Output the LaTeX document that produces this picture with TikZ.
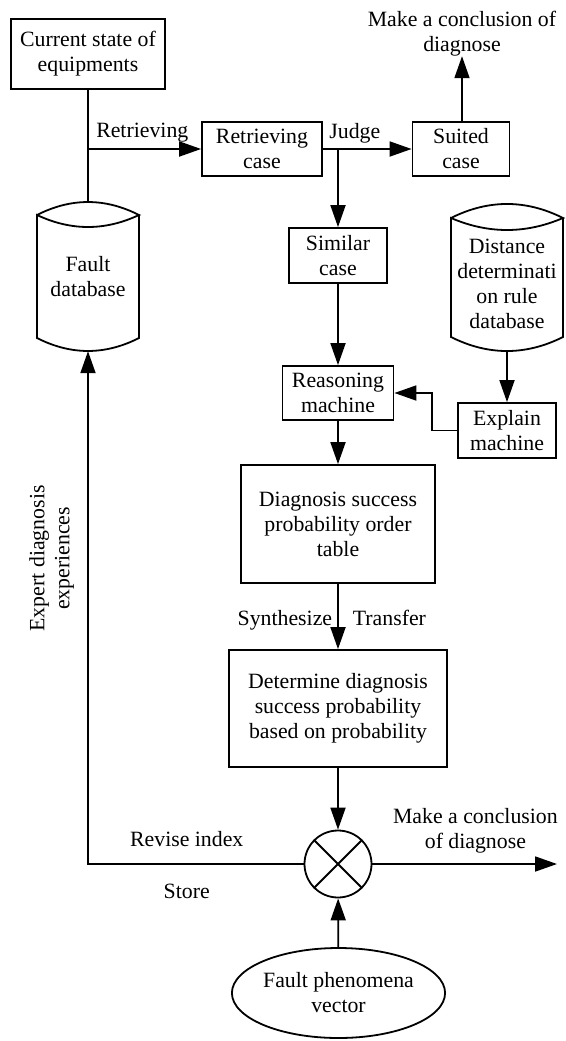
\documentclass[tikz,border=0pt]{standalone}
\usepackage{fontspec}
\setmainfont{Liberation Serif}
\usetikzlibrary{arrows.meta,shapes.geometric}

\begin{document}
\begin{tikzpicture}[
      x=1pt, y=-1pt,
      every node/.style={font=\fontsize{21.8}{25}\selectfont, align=center, inner sep=0pt},
      caja/.style={draw, line width=1.8pt},
      linea/.style={line width=1.8pt},
      flecha/.style={line width=1.8pt, -{Triangle[length=22pt,width=15pt]}},
      etiq/.style={anchor=base}
    ]
    \useasboundingbox (0,0) rectangle (565,1041);

    \node[caja, minimum width=154pt, minimum height=70pt]  (cur) at (88,54)      {Current state of\\equipments};
    \node[caja, minimum width=120pt, minimum height=54pt]  (rc)  at (262,149)    {Retrieving\\case};
    \node[caja, minimum width=97pt,  minimum height=54pt]  (sc)  at (461,149)    {Suited\\case};
    \node                                                  (con) at (462,33.5)   {Make a conclusion of\\diagnose};
    \node[caja, minimum width=98pt,  minimum height=55pt]  (sim) at (338,255.5)  {Similar\\case};
    \node[caja, minimum width=111pt, minimum height=54pt]  (rm)  at (338,393)    {Reasoning\\machine};
    \node[caja, minimum width=98pt,  minimum height=55pt]  (ex)  at (507,430.5)  {Explain\\machine};
    \node[caja, minimum width=194pt, minimum height=118pt] (tab) at (338,524)    {Diagnosis success\\probability order\\table};
    \node[caja, minimum width=218pt, minimum height=117pt] (det) at (338,708.5)  {Determine diagnosis\\success probability\\based on probability};
    \node[caja, circle, minimum size=67pt]                  (cir) at (338,864)    {};
    \node[caja, ellipse, minimum width=207pt, minimum height=90pt] (fv) at (338.5,993) {Fault phenomena\\vector};
    \node[minimum width=102pt, minimum height=149pt]       (fdb) at (88,276.5)   {Fault\\database};
    \node[minimum width=112pt, minimum height=135pt]       (ddb) at (507,283.5)  {Distance\\determinati\\on rule\\database};
    \coordinate (ret) at (88,149);
    \coordinate (jud) at (338,149);
    \coordinate (out) at (557,864);

    \draw[linea] (37,215) .. controls (71,197.7) and (105,197.7) .. (139,215)
                 .. controls (105,231) and (71,231) .. (37,215) -- (37,338)
                 .. controls (71,355.3) and (105,355.3) .. (139,338) -- (139,215);
    \draw[linea] (451,218) .. controls (488.3,199.3) and (525.7,199.3) .. (563,218)
                 .. controls (525.7,234) and (488.3,234) .. (451,218) -- (451,337)
                 .. controls (488.3,355.7) and (525.7,355.7) .. (563,337) -- (563,218);
    \draw[linea] (cir.north west) -- (cir.south east) (cir.north east) -- (cir.south west);

    \draw[linea]  (cur) -- (fdb);
    \draw[flecha] (ret) -- (rc) node[etiq, pos=0.48, yshift=12pt] {Retrieving};
    \draw[flecha] (rc) -- (sc) node[etiq, pos=0.36, yshift=11pt] {Judge};
    \draw[flecha] (jud) -- (sim);
    \draw[flecha] (sc.north -| con) -- (con);
    \draw[flecha] (sim) -- (rm);
    \draw[flecha] (ddb) -- (ex);
    \draw[flecha] (ex.west) -- ++(-25,0) |- (rm.east);
    \draw[flecha] (rm) -- (tab);
    \draw[flecha] (tab) -- (det)
      node[anchor=base east, pos=0.64, xshift=-5pt] {Synthesize}
      node[anchor=base west, pos=0.64, xshift=14pt] {Transfer};
    \draw[flecha] (det) -- (cir);
    \draw[flecha] (fv) -- (cir);
    \draw[flecha] (cir) -- (out)
      node[anchor=south, pos=0.558, yshift=10pt] {Make a conclusion\\of diagnose};
    \draw[flecha] (cir.west) -| (fdb.south)
      node[etiq, pos=0.271, yshift=18pt] {Revise index}
      node[etiq, pos=0.271, yshift=-34pt] {Store}
      node[anchor=south, rotate=90, pos=0.798, inner sep=13pt] {Expert diagnosis\\experiences};
  \end{tikzpicture}
\end{document}
